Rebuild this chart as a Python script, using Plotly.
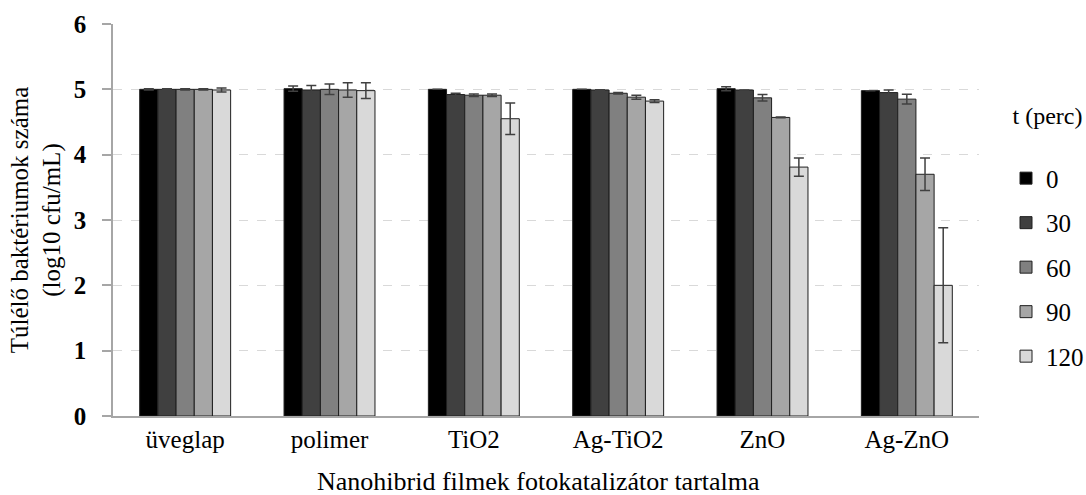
import plotly.graph_objects as go

# Film types (categories) and sampling times (series)
categories = ["üveglap", "polimer", "TiO2", "Ag-TiO2", "ZnO", "Ag-ZnO"]
times = ["0", "30", "60", "90", "120"]

# Mean surviving bacteria, log10 cfu/mL
t0 = [5.00, 5.01, 5.00, 5.00, 5.01, 4.98]
t30 = [5.00, 4.99, 4.92, 4.99, 4.99, 4.95]
t60 = [5.00, 5.00, 4.91, 4.94, 4.87, 4.85]
t90 = [5.00, 4.99, 4.91, 4.88, 4.57, 3.70]
t120 = [4.99, 4.98, 4.55, 4.82, 3.81, 2.00]

# Standard deviations
err0 = [0.01, 0.04, 0.00, 0.00, 0.03, 0.00]
err30 = [0.01, 0.07, 0.02, 0.005, 0.00, 0.04]
err60 = [0.01, 0.08, 0.02, 0.01, 0.05, 0.075]
err90 = [0.01, 0.11, 0.02, 0.03, 0.005, 0.25]
err120 = [0.03, 0.12, 0.24, 0.02, 0.14, 0.88]

series = [t0, t30, t60, t90, t120]
errors = [err0, err30, err60, err90, err120]
colors = ["#000000", "#404040", "#808080", "#a6a6a6", "#d9d9d9"]

SERIF = "Liberation Serif"

fig = go.Figure()
for name, vals, errs, col in zip(times, series, errors, colors):
    fig.add_trace(go.Bar(
        name=name,
        x=categories,
        y=vals,
        legendgroup=name,
        marker=dict(color=col, line=dict(color="#1f1f1f", width=1)),
        error_y=dict(type="data", array=errs, visible=True,
                     color="#404040", thickness=1.5, width=5),
    ))

PLOT_W = 1086 - 113 - 107
PLOT_H = 495 - 24 - 79

fig.update_layout(
    width=1086, height=495,
    margin=dict(l=113, r=107, t=24, b=79, autoexpand=False),
    paper_bgcolor="white", plot_bgcolor="white",
    barmode="group", bargap=0.37, bargroupgap=0,
    font=dict(family=SERIF, size=24, color="black"),
    showlegend=True,
    legend=dict(
        x=(1006 - 113) / PLOT_W, xanchor="left",
        y=1 - (93 - 24) / PLOT_H, yanchor="top",
        font=dict(family=SERIF, size=25, color="black"),
        title=dict(text="t (perc)<br> ", font=dict(family=SERIF, size=24, color="black"),
                   side="top center"),
        tracegroupgap=9, itemwidth=30,
        bgcolor="rgba(0,0,0,0)",
    ),
    xaxis=dict(
        showline=True, linecolor="#a6a6a6", linewidth=2,
        ticks="", showgrid=False,
        tickfont=dict(family=SERIF, size=25, color="black"),
    ),
    yaxis=dict(
        range=[0, 6], dtick=1,
        showline=True, linecolor="#a6a6a6", linewidth=1.5,
        ticks="outside", ticklen=9, tickcolor="#a6a6a6", tickwidth=1.5,
        ticklabelstandoff=11,
        showgrid=True, gridcolor="#d9d9d9", griddash="dash", gridwidth=1,
        zeroline=False,
        tickfont=dict(family=SERIF, size=25, color="black", weight="bold"),
        title=dict(text="Túlélő baktériumok száma<br>(log10 cfu/mL)",
                   font=dict(family=SERIF, size=25, color="black"), standoff=6),
    ),
)

fig.add_annotation(
    text="Nanohibrid filmek fotokatalizátor tartalma",
    xref="paper", yref="paper", x=(538 - 113) / PLOT_W, y=-(482 - 416) / PLOT_H,
    xanchor="center", yanchor="middle", showarrow=False,
    font=dict(family=SERIF, size=26, color="black"),
)

fig.write_html("out.html")
